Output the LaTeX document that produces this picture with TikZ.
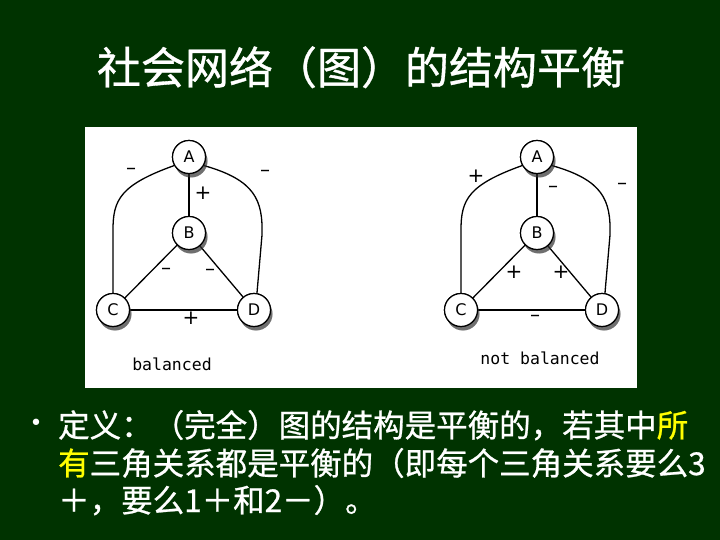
\documentclass[tikz,border=0pt]{standalone}
\usepackage{fontspec}
\setmainfont{DejaVu Sans}
\newfontfamily\cjk{Noto Sans CJK SC}[FakeBold=0.8]
\newfontfamily\lbl{DejaVu Sans}
\newfontfamily\mono{DejaVu Sans Mono}
\usetikzlibrary{shadows}
\definecolor{bg}{HTML}{003300}
\definecolor{hl}{HTML}{FFFF00}
\tikzset{
  vtx/.style={circle,draw=black,line width=1.2pt,fill=white,minimum size=33pt,inner sep=0pt,
    font=\lbl\fontsize{16}{16}\selectfont,
    drop shadow={shadow xshift=2pt,shadow yshift=-4pt,opacity=0.5,fill=black!75}},
  lnk/.style={line width=1.3pt,draw=black},
  sgn/.style={font=\lbl\fontsize{20}{20}\selectfont,inner sep=0pt},
  captxt/.style={font=\mono\fontsize{16.5}{16.5}\selectfont,inner sep=0pt},
  body/.style={font=\cjk\fontsize{31.5}{31.5}\selectfont,text=white,inner sep=0pt,anchor=base west},
}
\begin{document}
\begin{tikzpicture}[x=1pt,y=-1pt]
\fill[bg] (0,0) rectangle (720,540);
\useasboundingbox (0,0) rectangle (720,540);
% title
\node[font=\cjk\fontsize{44}{44}\selectfont,text=white,inner sep=0pt,anchor=base] (title) at (361,84) {社会网络（图）的结构平衡};
% panel
\fill[white] (85,127) rectangle (637,388);
% left graph
\node[vtx] (A1) at (189,157) {A};
\node[vtx] (B1) at (189,233) {B};
\node[vtx] (C1) at (113,310) {C};
\node[vtx] (D1) at (254,310) {D};
\draw[lnk] (A1) -- (B1);
\draw[lnk] (B1) -- (C1);
\draw[lnk] (B1) -- (D1);
\draw[lnk] (C1) -- (D1);
\draw[lnk] (A1.210) .. controls (120,185) and (113,200) .. (113,230) -- (C1.north);
\draw[lnk] (A1.-30) .. controls (255,180) and (263,200) .. (262,235) -- (D1.80);
\node[sgn] (s1) at (131,171) {–};
\node[sgn] (s2) at (203,193) {+};
\node[sgn] (s3) at (265,173) {–};
\node[sgn] (s4) at (166,271) {–};
\node[sgn] (s5) at (210,272) {–};
\node[sgn] (s6) at (191,318) {+};
\node[captxt] (c1) at (172,364) {balanced};
% right graph
\node[vtx] (A2) at (537,157) {A};
\node[vtx] (B2) at (537,233) {B};
\node[vtx] (C2) at (461,310) {C};
\node[vtx] (D2) at (602,310) {D};
\draw[lnk] (A2) -- (B2);
\draw[lnk] (B2) -- (C2);
\draw[lnk] (B2) -- (D2);
\draw[lnk] (C2) -- (D2);
\draw[lnk] (A2.210) .. controls (468,185) and (461,200) .. (461,230) -- (C2.north);
\draw[lnk] (A2.-30) .. controls (603,180) and (611,200) .. (610,235) -- (D2.80);
\node[sgn] (t1) at (476,176) {+};
\node[sgn] (t2) at (553,189) {–};
\node[sgn] (t3) at (622,186) {–};
\node[sgn] (t4) at (514,272) {+};
\node[sgn] (t5) at (561,272) {+};
\node[sgn] (t6) at (535,318) {–};
\node[captxt] (c2) at (540,358) {not balanced};
% redraw nodes on top
\node[vtx] at (189,157) {A};
\node[vtx] at (189,233) {B};
\node[vtx] at (113,310) {C};
\node[vtx] at (254,310) {D};
\node[vtx] at (537,157) {A};
\node[vtx] at (537,233) {B};
\node[vtx] at (461,310) {C};
\node[vtx] at (602,310) {D};
% bullet text
\node[font=\lbl\fontsize{22}{22}\selectfont,text=white,inner sep=0pt] (bul) at (36,425) {•};
\node[body] (l1) at (58,437) {定义：（完全）图的结构是平衡的，若其中\textcolor{hl}{所}};
\node[body] (l2) at (58,475) {\textcolor{hl}{有}三角关系都是平衡的（即每个三角关系要么3};
\node[body] (l3) at (58,512) {＋，要么1＋和2－）。};
\end{tikzpicture}
\end{document}
